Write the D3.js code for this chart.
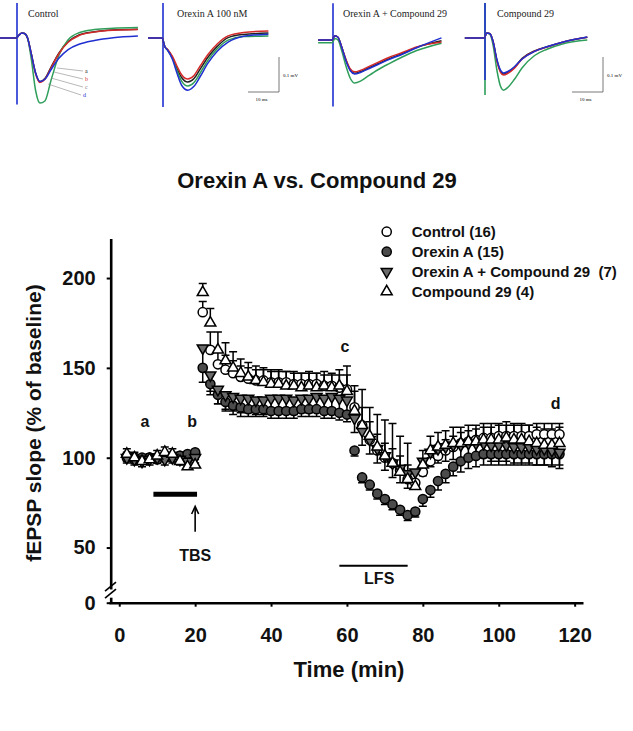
<!DOCTYPE html>
<html>
<head>
<meta charset="utf-8">
<script src="https://cdn.jsdelivr.net/npm/d3@7"></script>
<style>
body { margin: 0; background: #fff; }
svg { display: block; }
</style>
</head>
<body>
<div id="chart"></div>
<script>
// ---------- main plot data ----------
const times = [2,4,6,8,10,12,14,16,18,20,
	22,24,26,28,30,32,34,36,38,40,
	42,44,46,48,50,52,54,56,58,60,
	62,64,66,68,70,72,74,76,78,80,
	82,84,86,88,90,92,94,96,98,100,
	102,104,106,108,110,112,114,116];

const control = [101,100,99,100,100,101,100,101,100,102,
	181,160,152,149,147,145,144,143,143,142,
	142,142,141,141,141,141,140,140,139,138,
	128,118,110,104,100,97,93,88,86,92,
	98,101,104,106,108,109,110,111,111,112,
	112,112,112,112,113,113,113,113];
const controlErr = [2,2,2,2,2,2,2,2,2,2,
	6,10,8,8,7,6,6,6,6,6,
	6,6,6,6,6,6,6,6,7,8,
	9,10,10,9,8,8,8,8,7,7,
	6,6,6,6,6,6,6,6,6,6,
	6,6,6,6,6,6,6,6];

const orexinA = [100,99,100,100,99,100,101,101,102,103,
	150,141,135,131,129,128,127,127,127,126,
	126,126,126,127,127,127,126,126,125,124,
	104,89,85,80,77,74,71,68,70,77,
	82,87,91,95,98,100,101,102,102,102,
	102,102,102,102,102,102,102,102];
const orexinAErr = [2,2,2,2,2,2,2,2,2,2,
	8,6,5,5,5,5,4,4,4,4,
	4,4,4,4,4,4,4,4,4,4,
	3,3,3,3,3,3,3,3,3,4,
	4,5,5,5,6,6,6,6,6,6,
	6,6,6,6,6,6,6,6];

const orexinC29 = [100,99,98,99,100,99,100,99,98,100,
	161,146,138,135,134,133,133,132,132,133,
	133,133,132,133,133,134,133,134,133,132,
	122,115,110,105,101,97,94,91,92,98,
	103,105,106,107,107,108,108,108,107,107,
	107,106,106,106,105,105,104,103];
const orexinC29Err = [3,3,3,3,3,3,3,3,3,3,
	10,9,8,8,8,8,8,8,8,8,
	8,8,8,8,8,8,8,8,8,8,
	8,8,8,8,8,8,8,8,8,8,
	8,8,8,8,8,8,8,8,9,9,
	9,9,9,9,9,9,9,9];

const c29 = [102,100,98,99,101,103,102,98,95,96,
	192,175,160,154,150,147,145,143,142,141,
	141,140,140,139,140,139,140,139,140,137,
	126,118,112,106,101,97,92,88,84,96,
	104,106,107,108,108,109,109,110,110,110,
	111,110,110,109,108,107,107,108];
const c29Err = [3,3,3,3,3,3,3,3,3,3,
	5,8,10,10,9,8,8,8,8,8,
	8,8,8,8,8,8,8,8,9,14,
	14,20,16,18,20,22,20,20,8,8,
	8,8,8,9,9,9,9,9,9,9,
	9,9,9,9,9,9,9,9];

const seriesNames = ['Control (16)', 'Orexin A (15)', 'Orexin A + Compound 29  (7)', 'Compound 29 (4)'];
const xTicks = [0,20,40,60,80,100,120];
const yTicks = [0,50,100,150,200];

// ---------- trace data (ms after stimulus, mV) ----------
const traceTitles = ['Control', 'Orexin A 100 nM', 'Orexin A + Compound 29', 'Compound 29'];

const tr1T = [-5.5,-0.3,0.6,1.6,2.6,3.4,4.6,6,7.4,9,11,13.5,16.5,20,25,31,39];
const tr1a = [0,0,0.008,0.014,0.012,0,-0.045,-0.1,-0.125,-0.116,-0.083,-0.043,-0.01,0.009,0.018,0.023,0.025];
const tr1b = [0,0,0.008,0.014,0.012,0,-0.045,-0.102,-0.127,-0.118,-0.085,-0.045,-0.012,0.007,0.017,0.022,0.024];
const tr1c = [0,0,0.008,0.014,0.012,0,-0.06,-0.15,-0.186,-0.18,-0.12,-0.05,-0.005,0.015,0.024,0.028,0.03];
const tr1d = [0,0,0.008,0.014,0.012,0,-0.045,-0.1,-0.124,-0.118,-0.09,-0.058,-0.033,-0.018,-0.007,0.001,0.006];

const tr2T = [-4.8,-0.3,0.6,1.5,3,4.5,6,8,10,12,14.5,17.5,21,26,34];
const tr2a = [0,0,-0.025,-0.034,-0.055,-0.087,-0.113,-0.126,-0.116,-0.089,-0.055,-0.024,0.001,0.01,0.014];
const tr2b = [0,0,-0.025,-0.033,-0.052,-0.08,-0.105,-0.117,-0.107,-0.08,-0.047,-0.017,0.006,0.016,0.02];
const tr2c = [0,0,-0.025,-0.035,-0.057,-0.093,-0.123,-0.137,-0.127,-0.1,-0.064,-0.031,-0.006,0.004,0.006];
const tr2d = [0,0,-0.025,-0.035,-0.06,-0.1,-0.135,-0.149,-0.138,-0.11,-0.072,-0.038,-0.012,0.005,0.011];

const tr3T = [-4.8,-0.3,0.6,1.6,2.8,4.2,5.6,7,9,11.5,14.5,18,22,27,35];
const tr3a = [0,0,0.012,0.008,-0.02,-0.058,-0.086,-0.095,-0.09,-0.08,-0.068,-0.054,-0.04,-0.021,-0.002];
const tr3b = [0,0,0.012,0.008,-0.02,-0.056,-0.083,-0.091,-0.086,-0.076,-0.064,-0.05,-0.037,-0.02,-0.006];
const tr3c = [-0.008,-0.008,0.004,0,-0.03,-0.075,-0.11,-0.123,-0.117,-0.102,-0.085,-0.068,-0.05,-0.03,-0.009];
const tr3d = [0,0,0.012,0.008,-0.02,-0.06,-0.088,-0.097,-0.092,-0.082,-0.07,-0.056,-0.042,-0.022,0.006];

const tr4T = [-6.5,-0.3,0.6,1.6,2.6,3.8,5,6,7.5,9.5,12,16,20,25,33];
const tr4a = [0,0,0.014,0.012,-0.01,-0.062,-0.095,-0.103,-0.097,-0.084,-0.058,-0.037,-0.025,-0.012,0.002];
const tr4b = [0,0,0.014,0.012,-0.01,-0.064,-0.098,-0.106,-0.1,-0.086,-0.06,-0.038,-0.026,-0.012,0.002];
const tr4c = [0,0,0.014,0.01,-0.02,-0.09,-0.138,-0.149,-0.14,-0.118,-0.085,-0.05,-0.032,-0.017,-0.006];
const tr4d = [0,0,0.014,0.012,-0.01,-0.06,-0.092,-0.1,-0.095,-0.082,-0.06,-0.038,-0.025,-0.012,0.003];

// stimulus artifact extent (mV)
const artifactTop = [0.1, 0.1, 0.105, 0.1];
const artifactBottom = [-0.19, -0.197, -0.19, -0.163];

// ---------- svg ----------
const svg = d3.select('#chart').append('svg')
	.attr('width', 633)
	.attr('height', 731)
	.style('font-family', '"Liberation Sans", Arial, sans-serif');

// ===== top row: example traces =====
const panels = [
	{ T: tr1T, a: tr1a, b: tr1b, c: tr1c, d: tr1d },
	{ T: tr2T, a: tr2a, b: tr2b, c: tr2c, d: tr2d },
	{ T: tr3T, a: tr3a, b: tr3b, c: tr3c, d: tr3d },
	{ T: tr4T, a: tr4a, b: tr4b, c: tr4c, d: tr4d }
];
const stimX = [17, 163, 333, 485];
const baseY = [38, 38, 40, 38];
const titleX = [28, 177, 343, 497];
const traceColor = { a: '#222', c: '#2e9e5a', b: '#d42a2a', d: '#1f2fd0' };

panels.forEach((p, i) => {
	let sx = d3.scaleLinear().domain([0, 10]).range([stimX[i], stimX[i] + 31]);
	let sy = d3.scaleLinear().domain([0, -0.1]).range([baseY[i], baseY[i] + 35]);
	let g = svg.append('g').attr('class', 'trace-panel');

	// stimulus artifact
	g.append('line')
		.attr('x1', sx(0)).attr('x2', sx(0))
		.attr('y1', sy(artifactTop[i])).attr('y2', sy(artifactBottom[i]))
		.attr('stroke', i === 3 ? traceColor.c : traceColor.d)
		.attr('stroke-width', 1.6);
	if (i === 3) {
		g.append('line')
			.attr('x1', sx(0)).attr('x2', sx(0))
			.attr('y1', sy(artifactTop[i])).attr('y2', sy(-0.12))
			.attr('stroke', traceColor.d)
			.attr('stroke-width', 1.6);
	}

	let line = d3.line()
		.x((d, k) => sx(p.T[k]))
		.y(d => sy(d))
		.curve(d3.curveMonotoneX);

	['a', 'c', 'b', 'd'].forEach(key => {
		g.append('path')
			.attr('d', line(p[key]))
			.attr('fill', 'none')
			.attr('stroke', traceColor[key])
			.attr('stroke-width', 1.5);
	});

	g.append('text')
		.attr('x', titleX[i])
		.attr('y', 17)
		.attr('font-family', '"Liberation Serif", "Times New Roman", serif')
		.attr('font-size', '10px')
		.attr('fill', '#222')
		.text(traceTitles[i]);

	// scale bars on panels 2 and 4
	if (i === 1 || i === 3) {
		let right = i === 1 ? 279 : 603;
		let bottom = 92;
		let w = sx(10) - sx(0), h = sy(-0.1) - sy(0);
		g.append('path')
			.attr('d', `M${right - w},${bottom}H${right}V${bottom - h}`)
			.attr('fill', 'none')
			.attr('stroke', '#555')
			.attr('stroke-width', 0.8);
		g.append('text')
			.attr('x', right + 4).attr('y', bottom - h / 2 + 2)
			.attr('font-family', '"Liberation Serif", serif')
			.attr('font-size', '5px')
			.text('0.1 mV');
		g.append('text')
			.attr('x', right - w / 2 - 2).attr('y', bottom + 9)
			.attr('text-anchor', 'middle')
			.attr('font-family', '"Liberation Serif", serif')
			.attr('font-size', '5px')
			.text('10 ms');
	}
});

// leader lines a-d on the control traces
const leaderKeys = ['a', 'b', 'c', 'd'];
const leaderStart = [[57, 68], [54, 72], [51, 78], [48, 84]];
const leaderEnd = [[83, 71], [83, 79], [83, 87], [81, 95]];
leaderKeys.forEach((k, i) => {
	svg.append('line')
		.attr('x1', leaderStart[i][0]).attr('y1', leaderStart[i][1])
		.attr('x2', leaderEnd[i][0]).attr('y2', leaderEnd[i][1])
		.attr('stroke', '#888').attr('stroke-width', 0.6);
	svg.append('text')
		.attr('x', leaderEnd[i][0] + 2).attr('y', leaderEnd[i][1] + 2)
		.attr('font-family', '"Liberation Serif", serif')
		.attr('font-size', '6px')
		.attr('fill', traceColor[k] === '#2e9e5a' ? '#777' : traceColor[k])
		.text(k);
});

// ===== main chart =====
let x = d3.scaleLinear().domain([-2.7, 122.2]).range([109, 583]);
// y has a break between 0 and 50
let y = d3.scaleLinear().domain([0, 50, 222]).range([602.7, 547.55, 238.5]);

// title
svg.append('text')
	.attr('x', 317)
	.attr('y', 188)
	.attr('text-anchor', 'middle')
	.attr('font-size', '22px')
	.attr('font-weight', 'bold')
	.attr('fill', '#111')
	.text('Orexin A vs. Compound 29');

// axes
let xAxisCall = d3.axisBottom(x).tickValues(xTicks).tickSize(4).tickSizeOuter(0).tickPadding(21);
let xAxis = svg.append('g')
	.attr('class', 'x-axis')
	.attr('transform', 'translate(0, 602.7)')
	.call(xAxisCall);

let yAxisCall = d3.axisLeft(y).tickValues(yTicks).tickSize(4).tickSizeOuter(0).tickPadding(11);
let yAxis = svg.append('g')
	.attr('class', 'y-axis')
	.attr('transform', 'translate(110.7, 0)')
	.call(yAxisCall);

[xAxis, yAxis].forEach(ax => {
	ax.select('.domain').attr('stroke', '#000').attr('stroke-width', 2.6);
	ax.selectAll('.tick line').attr('stroke', '#000').attr('stroke-width', 2);
	ax.selectAll('.tick text')
		.attr('font-size', '20px')
		.attr('font-weight', 'bold')
		.attr('font-family', '"Liberation Sans", Arial, sans-serif')
		.attr('fill', '#111');
});

// axis break
svg.append('rect')
	.attr('x', 106).attr('y', y(12)).attr('width', 10).attr('height', y(5) - y(12) + 0.5)
	.attr('fill', '#fff');
[0, 7].forEach(off => {
	svg.append('line')
		.attr('x1', 105).attr('y1', y(5) + off - 6)
		.attr('x2', 116).attr('y2', y(5) + off - 15)
		.attr('stroke', '#000').attr('stroke-width', 1.6);
});

// axis labels
svg.append('text')
	.attr('x', 349)
	.attr('y', 677)
	.attr('text-anchor', 'middle')
	.attr('font-size', '22px')
	.attr('font-weight', 'bold')
	.attr('fill', '#111')
	.text('Time (min)');

svg.append('text')
	.attr('transform', 'translate(41, 423) rotate(-90)')
	.attr('text-anchor', 'middle')
	.attr('font-size', '21px')
	.attr('font-weight', 'bold')
	.attr('fill', '#111')
	.text('fEPSP slope (% of baseline)');

// series
const series = [
	{ name: seriesNames[0], v: control, e: controlErr, dir: 1, shape: 'circle', fill: '#fff' },
	{ name: seriesNames[1], v: orexinA, e: orexinAErr, dir: -1, shape: 'circle', fill: '#4b4b4b' },
	{ name: seriesNames[2], v: orexinC29, e: orexinC29Err, dir: -1, shape: 'down', fill: '#6a6a6a' },
	{ name: seriesNames[3], v: c29, e: c29Err, dir: 1, shape: 'up', fill: '#fff' }
];

function drawMarker(sel, s) {
	if (s.shape === 'circle') {
		sel.append('circle').attr('r', 4.6);
	} else {
		sel.append('path')
			.attr('d', d3.symbol(d3.symbolTriangle, 52)())
			.attr('transform', s.shape === 'down' ? 'rotate(180)' : null);
	}
	sel.selectAll('circle, path')
		.attr('fill', s.fill)
		.attr('stroke', '#000')
		.attr('stroke-width', 1.5);
}

// error bars first
series.forEach(s => {
	let eb = svg.append('g').attr('class', 'errbars');
	times.forEach((t, i) => {
		let y0 = y(s.v[i]), y1 = y(s.v[i] + s.dir * s.e[i]);
		eb.append('path')
			.attr('d', `M${x(t)},${y0}V${y1}M${x(t) - 4},${y1}H${x(t) + 4}`)
			.attr('stroke', '#000')
			.attr('stroke-width', 1.5)
			.attr('fill', 'none');
	});
});

series.forEach(s => {
	svg.append('g').attr('class', 'points')
		.selectAll('g')
		.data(times)
		.enter()
		.append('g')
			.attr('transform', (t, i) => 'translate(' + x(t) + ',' + y(s.v[i]) + ')')
			.each(function() { drawMarker(d3.select(this), s); });
});

// legend
series.forEach((s, i) => {
	let ly = 231.7 + i * 20;
	let mg = svg.append('g').attr('transform', 'translate(386.7,' + ly + ')');
	drawMarker(mg, s);
	svg.append('text')
		.attr('x', 411.7)
		.attr('y', ly)
		.attr('dy', '0.35em')
		.attr('font-size', '15px')
		.attr('font-weight', 'bold')
		.attr('fill', '#111')
		.style('white-space', 'pre')
		.text(s.name);
});

// annotations
const letters = [['a', 2], ['b', 20], ['c', 60], ['d', 115]];
const letterDx = [18, -3, -2, 0];
const letterY = [427, 427, 352, 409];
letters.forEach((l, i) => {
	svg.append('text')
		.attr('x', x(l[1]) + letterDx[i])
		.attr('y', letterY[i])
		.attr('text-anchor', 'middle')
		.attr('font-size', '16px')
		.attr('font-weight', 'bold')
		.attr('fill', '#111')
		.text(l[0]);
});

// TBS
svg.append('line')
	.attr('x1', x(9)).attr('x2', x(20.5))
	.attr('y1', 494.3).attr('y2', 494.3)
	.attr('stroke', '#000').attr('stroke-width', 5);
svg.append('line')
	.attr('x1', x(20)).attr('x2', x(20))
	.attr('y1', 531.7).attr('y2', 507.5)
	.attr('stroke', '#000').attr('stroke-width', 1.6);
svg.append('path')
	.attr('d', `M${x(20) - 3.5},${514}L${x(20)},${506.5}L${x(20) + 3.5},${514}`)
	.attr('fill', 'none').attr('stroke', '#000').attr('stroke-width', 1.6);
svg.append('text')
	.attr('x', x(20))
	.attr('y', 561)
	.attr('text-anchor', 'middle')
	.attr('font-size', '16px')
	.attr('font-weight', 'bold')
	.attr('fill', '#111')
	.text('TBS');

// LFS
svg.append('line')
	.attr('x1', x(58)).attr('x2', x(76))
	.attr('y1', 565.7).attr('y2', 565.7)
	.attr('stroke', '#000').attr('stroke-width', 2);
svg.append('text')
	.attr('x', x(68.5))
	.attr('y', 584)
	.attr('text-anchor', 'middle')
	.attr('font-size', '16px')
	.attr('font-weight', 'bold')
	.attr('fill', '#111')
	.text('LFS');
</script>
</body>
</html>
